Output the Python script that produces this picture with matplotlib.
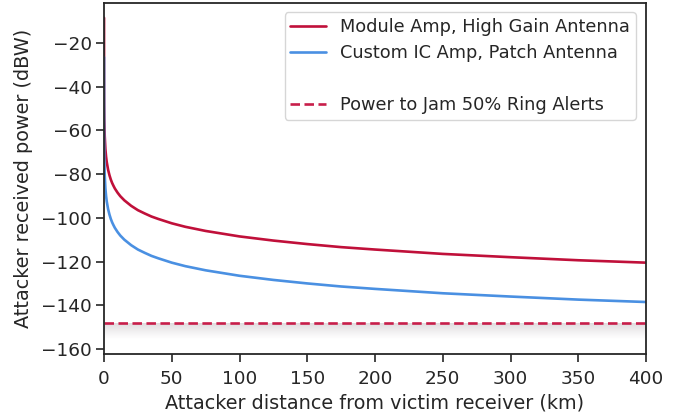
import numpy as np
import matplotlib
matplotlib.use("Agg")
import matplotlib.pyplot as plt
import seaborn as sns

sns.set_theme(style="ticks")
plt.rcParams['font.family'] = ['DejaVu Sans']

# Distance (km) and received power (dBW)
distance_km = [0.001, 0.01, 0.05, 0.1, 0.2, 0.5, 1, 1.5, 2, 3, 4, 5, 6, 7, 8, 10, 12,
               15, 20, 25, 30, 35, 40, 50, 60, 75, 100, 125, 150, 175, 200, 250,
               300, 350, 400]
module_amp = [-8.5, -28.5, -42.5, -48.5, -54.5, -62.5, -68.5, -72.0, -74.5, -78.0,
              -80.5, -82.5, -84.1, -85.4, -86.6, -88.5, -90.1, -92.0, -94.5, -96.5,
              -98.0, -99.4, -100.5, -102.5, -104.1, -106.0, -108.5, -110.4, -112.0,
              -113.4, -114.5, -116.5, -118.0, -119.4, -120.5]
custom_ic = [-26.5, -46.5, -60.5, -66.5, -72.5, -80.5, -86.5, -90.0, -92.5, -96.0,
             -98.5, -100.5, -102.1, -103.4, -104.6, -106.5, -108.1, -110.0, -112.5,
             -114.5, -116.0, -117.4, -118.5, -120.5, -122.1, -124.0, -126.5, -128.4,
             -130.0, -131.4, -132.5, -134.5, -136.0, -137.4, -138.5]
jam_threshold = -148.0

labels = ["Module Amp, High Gain Antenna", "Custom IC Amp, Patch Antenna",
          "Power to Jam 50% Ring Alerts"]

red = "#C0103A"
blue = "#4A90E2"

fig = plt.figure(figsize=(6.89, 4.18), dpi=100)
ax = fig.add_axes([0.151, 0.153, 0.7866, 0.840])

l1, = ax.plot(distance_km, module_amp, color=red, lw=1.9, label=labels[0])
l2, = ax.plot(distance_km, custom_ic, color=blue, lw=1.9, label=labels[1])

# soft shadow below threshold
n = 40
depth = 7.5
for i in range(n):
    y0 = jam_threshold - depth * i / n
    y1 = jam_threshold - depth * (i + 1) / n
    a = 0.32 * (1 - i / n) ** 1.2
    ax.fill_between([0, 400], y1, y0, color="#9a8f96", alpha=a, lw=0)

l3, = ax.plot([0, 400], [jam_threshold, jam_threshold], color="#C81E4A",
              lw=1.9, ls=(0, (3.6, 1.7)), label=labels[2])

blank, = ax.plot([], [], color="none", label=" ")

ax.set_xlim(0, 400)
ax.set_ylim(-162.3, -1.7)
ax.set_xticks(np.arange(0, 401, 50))
ax.set_yticks(np.arange(-160, -19, 20))
ax.tick_params(labelsize=13.3, length=5.5, width=1.2, colors="#262626", pad=3)
ax.tick_params(axis='x', pad=6)
for s in ax.spines.values():
    s.set_linewidth(1.3)
    s.set_color("#262626")

ax.set_xlabel("Attacker distance from victim receiver (km)", fontsize=13.9,
              color="#262626", labelpad=4)
ax.set_ylabel("Attacker received power (dBW)", fontsize=13.9, color="#262626",
              labelpad=6)

leg = ax.legend([l1, l2, blank, l3], [labels[0], labels[1], " ", labels[2]],
                loc="upper right", fontsize=12.8, frameon=True,
                bbox_to_anchor=(0.9975, 0.9985), handlelength=2.0, labelspacing=0.45,
                borderpad=0.32, handletextpad=0.8)
leg.get_frame().set_edgecolor("#cccccc")
for t in leg.get_texts():
    t.set_color("#262626")

fig.savefig("out.png", dpi=100)
